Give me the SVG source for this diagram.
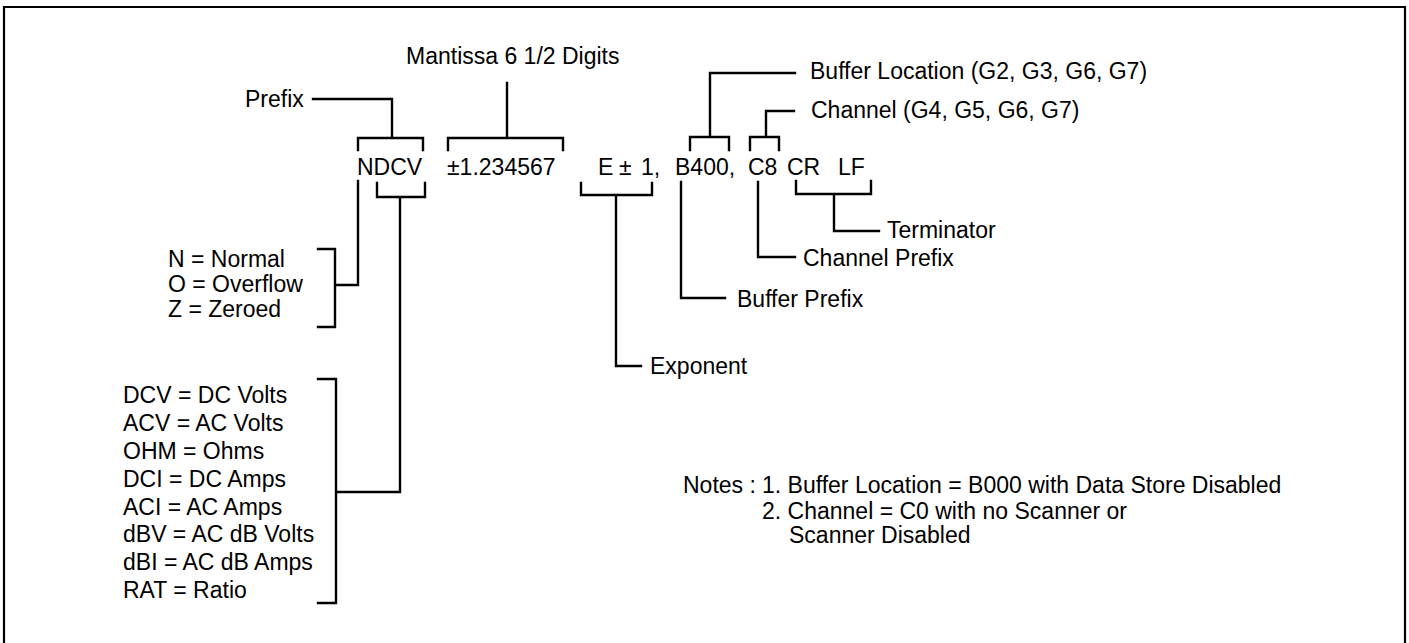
<svg xmlns="http://www.w3.org/2000/svg" width="1409" height="643" viewBox="0 0 1409 643">
<style>
text{font-family:"Liberation Sans",Arial,Helvetica,sans-serif;font-size:23px;fill:#000}
.ln{fill:none;stroke:#000;stroke-width:2.4;stroke-linecap:square;stroke-linejoin:miter}
.frame{fill:none;stroke:#000;stroke-width:2.2}
</style>
<rect width="1409" height="643" fill="#fff"/>
<path class="frame" d="M4,643 V7 H1405 V643"/>
<g id="connectors">
<path class="ln" d="M313,99 H392 V138 M358,150 V138 H423 V150"/>
<path class="ln" d="M507,83 V138 M448,150 V138 H563 V150"/>
<path class="ln" d="M795,73 H710 V137 M690,150 V137 H729 V150"/>
<path class="ln" d="M794,111 H766 V137 M750,150 V137 H779 V150"/>
<path class="ln" d="M358,181 V285 H335 M318,249 H335 V327 H318"/>
<path class="ln" d="M377,183 V197 H425 V183 M400,197 V492 H336 M318,379 H336 V603 H318"/>
<path class="ln" d="M581,183 V195 H652 V183 M616,195 V366 H641"/>
<path class="ln" d="M681,182 V298 H725"/>
<path class="ln" d="M758,182 V257 H795"/>
<path class="ln" d="M796,181 V194 H871 V181 M834,194 V231 H879"/>
</g>
<g id="format">
<text x="357" y="175">NDCV</text>
<text x="447" y="175">±1.234567</text>
<text x="598" y="175">E</text>
<text x="619" y="175">±</text>
<text x="641" y="175">1,</text>
<text x="675" y="175">B400,</text>
<text x="748" y="175">C8</text>
<text x="787" y="175">CR</text>
<text x="838" y="175">LF</text>
</g>
<g id="prefix"><text x="245" y="107">Prefix</text></g>
<g id="mantissa"><text x="406" y="64">Mantissa 6 1/2 Digits</text></g>
<g id="buffer-location"><text x="810" y="79">Buffer Location (G2, G3, G6, G7)</text></g>
<g id="channel"><text x="811" y="118">Channel (G4, G5, G6, G7)</text></g>
<g id="terminator"><text x="887" y="238">Terminator</text></g>
<g id="channel-prefix"><text x="803" y="266">Channel Prefix</text></g>
<g id="buffer-prefix"><text x="737" y="307">Buffer Prefix</text></g>
<g id="exponent"><text x="650" y="374">Exponent</text></g>
<g id="status-list">
<text x="168" y="267">N = Normal</text>
<text x="168" y="292">O = Overflow</text>
<text x="168" y="317">Z = Zeroed</text>
</g>
<g id="function-list">
<text x="123" y="403">DCV = DC Volts</text>
<text x="123" y="431">ACV = AC Volts</text>
<text x="123" y="459">OHM = Ohms</text>
<text x="123" y="487">DCI = DC Amps</text>
<text x="123" y="515">ACI = AC Amps</text>
<text x="123" y="542">dBV = AC dB Volts</text>
<text x="123" y="570">dBI = AC dB Amps</text>
<text x="123" y="598">RAT = Ratio</text>
</g>
<g id="notes">
<text x="683" y="493">Notes :</text>
<text x="762" y="493">1. Buffer Location = B000 with Data Store Disabled</text>
<text x="762" y="519">2. Channel = C0 with no Scanner or</text>
<text x="789" y="543">Scanner Disabled</text>
</g>
</svg>
